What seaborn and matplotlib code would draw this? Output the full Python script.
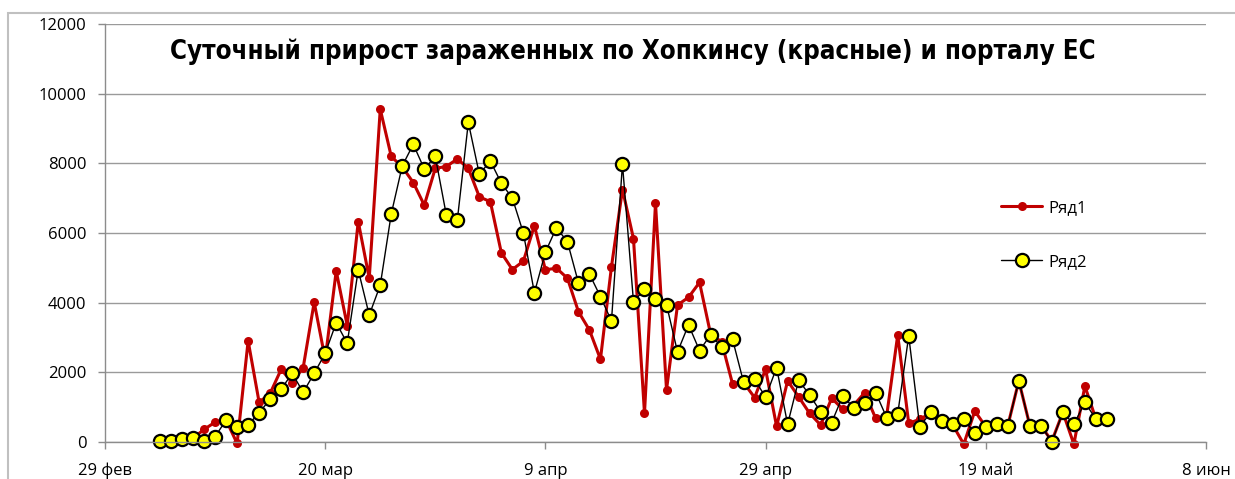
import matplotlib
matplotlib.use("Agg")
import matplotlib.pyplot as plt
import seaborn as sns
import pandas as pd
from matplotlib.patches import Rectangle

sns.set_theme(style="white")
plt.rcParams['font.family'] = ['Open Sans', 'DejaVu Sans']
plt.rcParams['text.color'] = 'black'

# daily values from 5 Mar 2020
start = "2020-03-05"
ryad1 = [20, 30, 60, 100, 355, 560, 620, -50, 2900, 1130,
         1390, 2080, 1700, 2130, 4010, 2370, 4910, 3340, 6330, 4700,
         9560, 8200, 7900, 7450, 6800, 7860, 7910, 8130, 7860, 7040,
         6900, 5430, 4950, 5190, 6210, 4940, 4990, 4700, 3740, 3210,
         2370, 5030, 7250, 5840, 815, 6860, 1490, 3930, 4150, 4580,
         3100, 2870, 1660, 1700, 1270, 2080, 440, 1750, 1290, 815,
         480, 1250, 940, 1050, 1410, 670, 750, 3070, 530, 645,
         820, 560, 480, -70, 880, 430, 500, 460, 1750, 460,
         460, 20, 845, -70, 1600, 650, 650]
ryad2 = [20, 20, 70, 100, 30, 145, 625, 430, 480, 835,
         1220, 1510, 1965, 1420, 1965, 2540, 3420, 2830, 4940, 3640,
         4500, 6550, 7930, 8550, 7840, 8200, 6520, 6370, 9180, 7690,
         8070, 7430, 7000, 6000, 4280, 5450, 6150, 5750, 4570, 4820,
         4170, 3470, 7980, 4020, 4380, 4090, 3940, 2580, 3360, 2620,
         3070, 2730, 2940, 1710, 1790, 1280, 2130, 500, 1770, 1340,
         860, 550, 1310, 980, 1100, 1410, 690, 800, 3040, 430,
         845, 600, 500, 650, 240, 430, 510, 460, 1755, 460,
         460, 0, 845, 500, 1130, 650, 650]
tick_dates = ["2020-02-29", "2020-03-20", "2020-04-09", "2020-04-29", "2020-05-19", "2020-06-08"]
tick_labels = ["29 фев", "20 мар", "9 апр", "29 апр", "19 май", "8 июн"]
y_ticks = [0, 2000, 4000, 6000, 8000, 10000, 12000]
title = "Суточный прирост зараженных по Хопкинсу (красные) и порталу ЕС"

df = pd.DataFrame({"date": pd.date_range(start, periods=len(ryad2)),
                   "Ряд1": ryad1, "Ряд2": ryad2})

W, H = 1235, 479
fig = plt.figure(figsize=(W / 100, H / 100), dpi=100)
ax = fig.add_axes([105 / W, 1 - 441.7 / H, (1206 - 105) / W, (441.7 - 24.3) / H])

sns.lineplot(data=df, x="date", y="Ряд1", ax=ax, color="#C00000", linewidth=2.2,
             marker="o", markersize=6.5, markeredgewidth=0, markeredgecolor="#C00000",
             label="Ряд1", clip_on=False)
sns.lineplot(data=df, x="date", y="Ряд2", ax=ax, color="black", linewidth=1,
             marker="o", markersize=9.5, markerfacecolor="#FFFF00",
             markeredgecolor="black", markeredgewidth=1.6, label="Ряд2", clip_on=False)

ax.set_xlim(pd.Timestamp(tick_dates[0]), pd.Timestamp(tick_dates[-1]))
ax.set_ylim(0, 12000)
ax.set_xticks(pd.to_datetime(tick_dates))
ax.set_xticklabels(tick_labels)
ax.set_yticks(y_ticks)
ax.set_xlabel("")
ax.set_ylabel("")

ax.yaxis.grid(True, color="#9a9a9a", linewidth=1)
ax.xaxis.grid(False)
ax.set_axisbelow(True)
for s in ["top", "right"]:
    ax.spines[s].set_visible(False)
for s in ["left", "bottom"]:
    ax.spines[s].set_color("#8c8c8c")
    ax.spines[s].set_linewidth(1)
ax.tick_params(axis="both", bottom=True, left=True, direction="out", length=5,
               width=1, color="#8c8c8c", labelsize=12, labelcolor="black")
ax.tick_params(axis="y", pad=8.5)
ax.tick_params(axis="x", pad=10)

ax.legend(loc="center left", bbox_to_anchor=(993 / W, 1 - 235 / H),
          bbox_transform=fig.transFigure, frameon=False, borderpad=0,
          handlelength=2.45, handletextpad=0.4, labelspacing=2.3, fontsize=12)

fig.text(0.512, 1 - 52 / H, title, ha="center", va="center", fontsize=18.5,
         fontweight="bold", family="DejaVu Sans", fontstretch="condensed", color="black")

fig.add_artist(Rectangle((8 / W, -0.05), 1.1, 1 - 13 / H + 0.05, transform=fig.transFigure,
                         fill=False, edgecolor="#c0c0c0", linewidth=1.5))

fig.savefig("out.png", dpi=100)
